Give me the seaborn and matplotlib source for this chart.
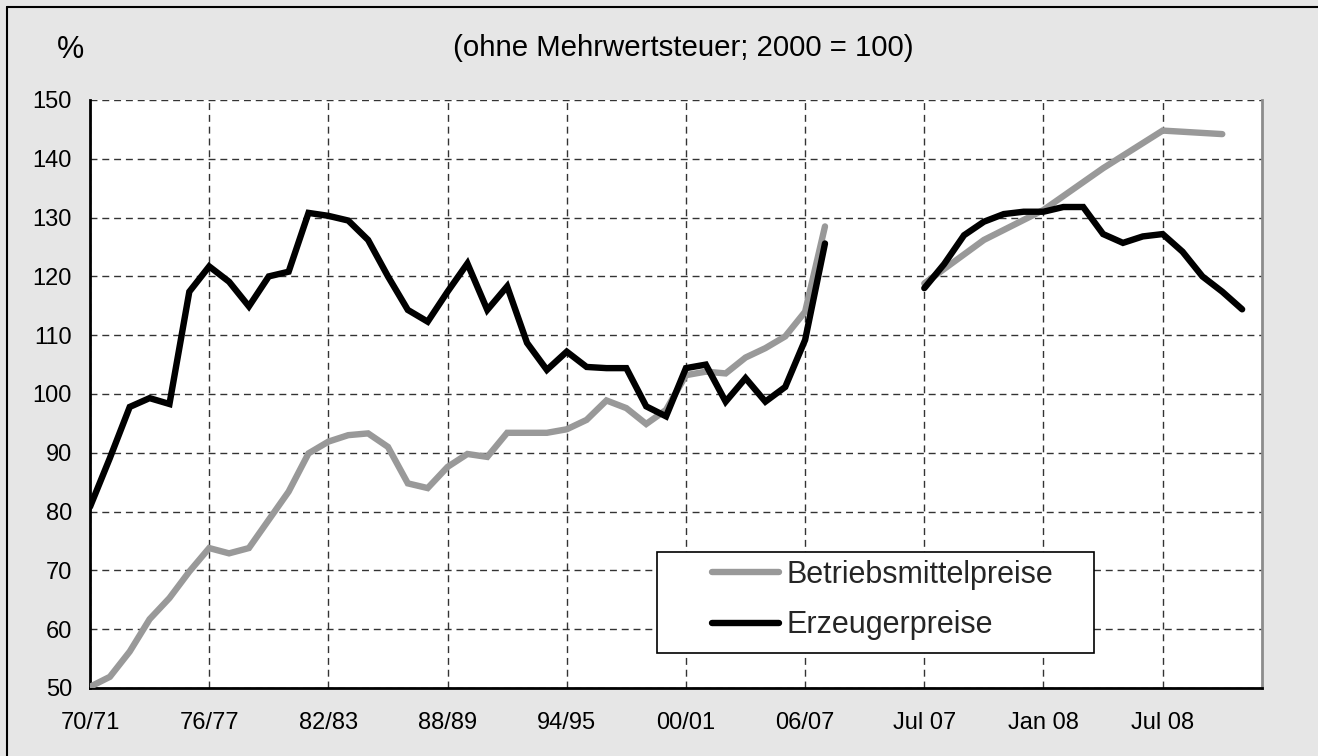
import numpy as np
import pandas as pd
import matplotlib
matplotlib.use("Agg")
import matplotlib.pyplot as plt
import seaborn as sns
from matplotlib.patches import Rectangle
from matplotlib.lines import Line2D

# ---- data ----
year_labels = ["70/71", "71/72", "72/73", "73/74", "74/75", "75/76", "76/77", "77/78",
               "78/79", "79/80", "80/81", "81/82", "82/83", "83/84", "84/85", "85/86",
               "86/87", "87/88", "88/89", "89/90", "90/91", "91/92", "92/93", "93/94",
               "94/95", "95/96", "96/97", "97/98", "98/99", "99/00", "00/01", "01/02",
               "02/03", "03/04", "04/05", "05/06", "06/07", "07/08"]
gap_labels = ["", "", "", ""]
month_labels = ["Jul 07", "Aug 07", "Sep 07", "Okt 07", "Nov 07", "Dez 07",
                "Jan 08", "Feb 08", "Mrz 08", "Apr 08", "Mai 08", "Jun 08",
                "Jul 08", "Aug 08", "Sep 08", "Okt 08", "Nov 08", "Dez 08"]

erzeuger_yearly = [80.8, 89.1, 97.8, 99.3, 98.3, 117.4, 121.7, 119.1, 114.9, 120.0,
                   120.8, 130.8, 130.3, 129.5, 126.2, 120.0, 114.3, 112.3, 117.4, 122.2,
                   114.3, 118.3, 108.7, 104.1, 107.2, 104.6, 104.4, 104.4, 97.9, 96.2,
                   104.4, 105.0, 98.7, 102.7, 98.7, 101.2, 109.2, 125.6]
betrieb_yearly = [50.2, 51.9, 56.2, 61.7, 65.3, 69.8, 73.8, 72.9, 73.8, 78.6,
                  83.4, 89.9, 91.9, 93.0, 93.3, 91.0, 84.8, 84.0, 87.6, 89.8,
                  89.3, 93.4, 93.4, 93.4, 94.0, 95.6, 98.9, 97.6, 94.9, 97.3,
                  103.2, 103.8, 103.5, 106.2, 107.8, 109.8, 114.0, 128.5]
erzeuger_monthly = [118.0, 122.1, 127.0, 129.3, 130.6, 131.0, 131.0, 131.8, 131.8,
                    127.2, 125.7, 126.8, 127.2, 124.2, 120.0, 117.4, 114.4, None]
betrieb_monthly = [118.8, None, None, 126.2, None, None, 131.3, None, None,
                   138.4, None, None, 144.8, None, None, 144.2, None, None]

series_names = ["Betriebsmittelpreise", "Erzeugerpreise"]
series_colors = ["#999999", "#000000"]
title_text = "(ohne Mehrwertsteuer; 2000 = 100)"
unit_text = "%"

# ---- build long table ----
categories = year_labels + gap_labels + month_labels
n_year = len(year_labels)
m0 = n_year + len(gap_labels)
rows = []
for name, yv, mv in [(series_names[0], betrieb_yearly, betrieb_monthly),
                     (series_names[1], erzeuger_yearly, erzeuger_monthly)]:
    for i, v in enumerate(yv):
        rows.append(dict(series=name, seg=name + "_y", pos=i, value=v))
    for i, v in enumerate(mv):
        if v is not None:
            rows.append(dict(series=name, seg=name + "_m", pos=m0 + i, value=v))
df = pd.DataFrame(rows)

# ---- figure ----
sns.set_theme(style="white")
plt.rcParams["font.family"] = ["Liberation Sans", "DejaVu Sans"]

fig = plt.figure(figsize=(13.18, 7.56), dpi=100, facecolor="#e6e6e6")
ax = fig.add_axes([90 / 1318, 1 - 688 / 756, (1262 - 90) / 1318, (688 - 100) / 756])
ax.set_facecolor("white")

sns.lineplot(data=df, x="pos", y="value", hue="series", units="seg", estimator=None,
             palette=dict(zip(series_names, series_colors)), hue_order=series_names,
             linewidth=4.6, ax=ax, legend=False, sort=True)
for ln in ax.get_lines():
    ln.set_solid_capstyle("round")
    ln.set_solid_joinstyle("miter")
    ln.set_zorder(3)

ax.set_xlim(0, len(categories) - 1)
ax.set_ylim(50, 150)
ax.set_yticks(np.arange(50, 151, 10))
xt = list(range(0, len(categories) - 1, 6))
ax.set_xticks(xt)
ax.set_xticklabels([categories[i] for i in xt])
ax.set_xlabel("")
ax.set_ylabel("")

ax.grid(True, color="#333333", linestyle=(0, (5, 3.5)), linewidth=1.0)
ax.set_axisbelow(True)

for s in ["left", "bottom"]:
    ax.spines[s].set_color("black")
    ax.spines[s].set_linewidth(2.0)
ax.spines["top"].set_visible(False)
ax.spines["right"].set_color("#8c8c8c")
ax.spines["right"].set_linewidth(2.0)

ax.tick_params(axis="both", which="major", direction="inout", length=10, width=1.6,
               color="black", labelsize=17, labelcolor="black")
ax.tick_params(axis="x", pad=12)
ax.tick_params(axis="y", pad=8)

# legend with separate frame
frame = Rectangle((0.4838, 0.0595), 0.3729, 0.1715, transform=ax.transAxes,
                  facecolor="white", edgecolor="black", linewidth=1.2, zorder=5)
ax.add_patch(frame)
handles = [Line2D([0], [0], color=c, linewidth=4.6, solid_capstyle="round")
           for c in series_colors]
leg = ax.legend(handles, series_names, loc="center left",
                bbox_to_anchor=(0.5307, 0.1497), frameon=False, fontsize=22,
                handlelength=2.2, handletextpad=0.25, labelspacing=0.68,
                borderpad=0, borderaxespad=0)
leg.set_zorder(6)

fig.text(683.5 / 1318, 1 - 48 / 756, title_text, ha="center", va="center",
         fontsize=21.2, color="black")
fig.text(71 / 1318, 1 - 50 / 756, unit_text, ha="center", va="center",
         fontsize=22, color="black")

# outer border (left and top)
fig.add_artist(Line2D([7 / 1318, 7 / 1318], [0, 1 - 7 / 756], color="black",
                      linewidth=1.5, transform=fig.transFigure))
fig.add_artist(Line2D([7 / 1318, 1], [1 - 7 / 756, 1 - 7 / 756], color="black",
                      linewidth=1.5, transform=fig.transFigure))

fig.savefig("out.png", dpi=100, facecolor=fig.get_facecolor())
